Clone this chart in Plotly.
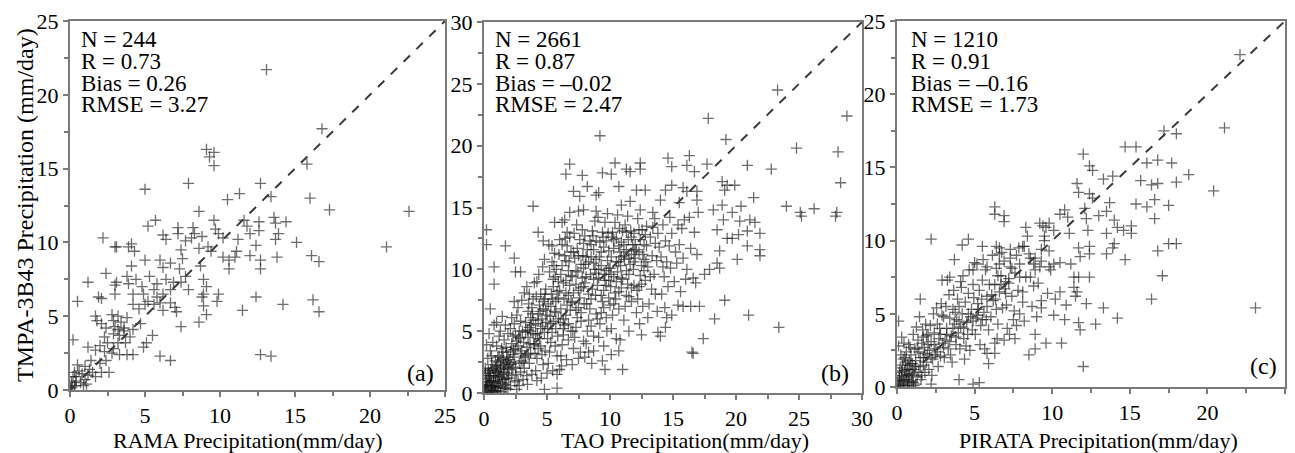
import plotly.graph_objects as go

W, H = 1295, 453

# values (station vs TMPA-3B43, mm/day)
rama_pts = [
    (13.1, 21.7), (16.8, 17.7), (15.8, 15.3), (9.1, 16.3), (9.6, 16.1), (9.3, 15.8), (9.6, 15.2),
    (7.9, 14.0), (5.0, 13.6), (12.7, 14.0), (13.4, 13.1), (11.3, 13.3), (10.5, 12.9), (16.0, 13.0),
    (17.3, 12.2), (22.6, 12.1), (21.1, 9.7), (8.6, 12.1), (5.7, 11.5), (5.2, 11.1), (2.2, 10.3),
    (7.2, 11.0), (7.2, 10.6), (8.2, 11.0), (8.3, 10.6), (8.1, 10.3), (8.8, 10.4), (9.6, 11.5),
    (9.7, 10.9), (9.9, 10.6), (10.2, 10.3), (6.2, 10.5), (6.4, 10.2), (7.7, 10.1), (11.2, 10.2),
    (11.6, 11.5), (11.8, 11.1), (12.0, 10.6), (12.6, 11.4), (12.6, 10.8), (13.6, 11.7), (13.7, 11.3),
    (13.9, 10.6), (13.7, 10.2), (14.4, 11.4), (15.1, 10.0), (3.0, 9.7), (3.1, 9.7), (3.9, 9.7),
    (4.1, 9.9), (4.3, 9.4), (7.4, 9.5), (7.5, 8.9), (8.6, 9.6), (9.2, 9.7), (9.4, 9.4), (10.2, 9.0),
    (10.6, 8.8), (11.1, 9.4), (11.0, 9.0), (12.0, 9.1), (12.4, 9.8), (12.7, 8.8), (13.8, 9.0),
    (16.1, 9.1), (16.6, 8.7), (6.0, 8.8), (5.0, 8.8), (6.7, 8.6), (6.2, 8.3), (7.3, 8.2), (8.7, 8.4),
    (10.6, 8.2), (12.7, 8.2), (4.1, 8.4), (2.4, 7.9), (1.2, 7.3), (3.1, 7.3), (3.0, 7.1), (3.8, 7.7),
    (3.9, 7.2), (4.4, 7.5), (5.3, 7.7), (5.8, 7.2), (6.4, 7.5), (6.9, 7.3), (7.4, 7.3), (7.7, 7.7),
    (7.9, 6.8), (8.9, 7.5), (9.1, 7.0), (8.9, 6.5), (9.9, 6.5), (0.5, 6.0), (1.9, 6.3), (2.1, 6.2),
    (3.0, 6.5), (4.8, 7.0), (4.2, 6.5), (4.9, 6.5), (5.6, 6.8), (5.8, 6.3), (6.2, 6.5), (6.7, 6.8),
    (5.2, 6.0), (5.6, 5.8), (6.0, 5.9), (6.2, 5.4), (6.7, 5.9), (7.0, 5.6), (7.1, 5.3), (8.8, 6.3),
    (8.9, 5.7), (9.8, 6.0), (12.4, 6.3), (16.2, 6.1), (16.6, 5.3), (14.2, 5.8), (11.5, 5.4),
    (9.1, 5.1), (8.6, 4.6), (4.2, 5.8), (4.6, 5.5), (5.0, 5.8), (1.7, 5.0), (1.8, 4.7), (2.1, 4.5),
    (2.8, 5.1), (2.9, 4.7), (3.2, 5.0), (3.4, 4.6), (3.8, 4.9), (2.4, 4.2), (3.0, 4.3), (3.2, 4.1),
    (3.6, 4.2), (4.2, 4.1), (4.7, 4.5), (7.4, 4.3), (2.9, 3.8), (3.3, 3.7), (3.6, 4.0), (2.3, 3.6),
    (4.0, 3.6), (5.5, 3.7), (0.2, 3.4), (1.2, 2.9), (2.0, 3.0), (2.5, 3.2), (2.9, 2.8), (3.2, 3.2),
    (3.7, 3.2), (4.9, 2.9), (5.1, 3.2), (1.7, 2.7), (2.3, 2.6), (2.8, 2.5), (3.3, 2.4), (3.8, 2.4),
    (4.2, 2.4), (6.0, 2.3), (6.7, 2.0), (12.7, 2.4), (13.4, 2.3), (1.4, 2.0), (2.0, 1.8), (2.4, 2.0),
    (1.0, 1.6), (0.5, 1.7), (1.3, 1.4), (2.1, 1.2), (2.6, 1.2), (0.8, 1.1), (0.2, 0.9), (0.4, 0.9),
    (1.0, 0.7), (1.2, 1.0), (0.1, 0.5), (0.3, 0.3), (0.05, 0.1), (0.7, 0.5), (1.7, 0.9), (0.3, 1.2),
    (0.6, 1.3), (0.9, 0.3), (0.4, 0.6), (0.15, 0.2), (1.5, 1.2), (1.1, 0.4),
]

tao_pts = [
    # scattered points
    (23.3, 24.5), (28.8, 22.4), (17.8, 22.2), (9.2, 20.8), (24.8, 19.8), (19.2, 20.5), (28.1, 19.5),
    (28.3, 17.0), (22.8, 18.1), (20.9, 18.4), (6.8, 18.5), (6.5, 17.7), (10.4, 18.6), (10.1, 17.7),
    (9.4, 17.8), (11.3, 18.1), (11.6, 17.9), (12.4, 18.6), (12.4, 18.1), (14.6, 19.0), (14.9, 18.3),
    (16.3, 19.2), (16.1, 18.4), (17.7, 18.5), (16.7, 17.9), (7.8, 17.6), (8.2, 16.7), (9.1, 16.2),
    (8.9, 16.0), (7.1, 16.3), (7.6, 15.9), (10.7, 16.7), (12.1, 16.4), (12.8, 16.4), (14.4, 16.4),
    (14.9, 16.8), (15.8, 16.6), (16.1, 16.3), (16.9, 16.3), (18.9, 17.1), (19.3, 16.8), (19.1, 16.4),
    (19.9, 16.8), (3.9, 15.1), (7.9, 14.8), (8.9, 14.7), (10.9, 15.2), (11.6, 15.5), (12.4, 14.8),
    (13.4, 14.6), (14.0, 15.6), (15.5, 15.4), (16.9, 15.6), (17.0, 14.6), (18.2, 14.8), (18.9, 15.2),
    (19.7, 14.6), (20.4, 15.1), (21.4, 15.8), (24.0, 15.1), (25.1, 14.6), (25.2, 14.3), (26.2, 14.9),
    (28.0, 14.6), (27.9, 14.3), (21.1, 14.0), (21.5, 13.8), (20.3, 13.9), (19.0, 14.0), (18.5, 13.2),
    (19.3, 12.5), (19.7, 12.5), (20.2, 12.8), (20.9, 13.1), (21.9, 12.9), (20.9, 11.9), (21.9, 11.6),
    (21.9, 11.1), (18.7, 11.5), (20.1, 10.8), (18.5, 10.5), (18.7, 10.1), (17.9, 10.0), (17.5, 9.6),
    (19.1, 7.5), (21.0, 6.3), (18.3, 6.0), (23.4, 5.3), (17.1, 7.0), (16.4, 7.0), (17.4, 4.4),
    (16.6, 3.2), (16.5, 3.3), (16.8, 8.9), (16.0, 9.2), (15.8, 7.0), (15.4, 7.1), (14.9, 6.3),
    (14.5, 6.1), (14.4, 5.3), (13.8, 4.9), (14.0, 4.6), (13.0, 6.1), (12.5, 4.7), (10.8, 4.3),
    (10.7, 3.4), (10.1, 3.1), (11.0, 1.9), (9.4, 2.6), (9.6, 1.9), (8.7, 3.4), (5.8, 1.5), (5.8, 0.4),
    (4.8, 0.3), (0.2, 12.0), (0.8, 10.2), (0.8, 8.8), (0.5, 6.8), (1.0, 5.7), (1.7, 11.9),
    (2.4, 10.9), (2.5, 9.8), (2.9, 9.8), (0.2, 13.2), (4.3, 13.0), (4.7, 12.3), (5.6, 13.8),
    (6.2, 13.8), (6.4, 14.0), (6.8, 14.6), (7.5, 14.7),
    # main cloud
    (0.1, 0.1), (0.2, 0.4), (0.3, 0.2), (0.4, 0.7), (0.5, 0.3), (0.6, 1.0), (0.7, 0.5), (0.8, 0.2),
    (0.9, 1.3), (0.2, 1.1), (0.4, 1.6), (0.1, 2.0), (0.6, 2.3), (0.3, 2.8), (0.8, 1.8), (0.5, 3.4),
    (0.9, 2.6), (0.2, 3.9), (0.7, 4.1), (0.4, 0.9), (0.6, 0.6), (1.0, 0.4), (0.9, 0.8), (0.3, 1.4),
    (0.15, 0.6), (0.55, 1.9), (1.1, 0.2), (1.2, 0.9), (1.3, 0.5), (1.4, 1.5), (1.5, 1.1), (1.6, 2.0),
    (1.7, 0.7), (1.8, 2.6), (1.9, 1.6), (1.2, 3.0), (1.4, 3.6), (1.6, 4.3), (1.8, 3.3), (1.3, 2.2),
    (1.1, 1.7), (1.5, 2.8), (1.9, 4.8), (1.7, 5.5), (1.0, 3.8), (1.2, 4.6), (1.9, 0.3), (1.6, 0.4),
    (1.8, 1.2), (1.1, 2.5), (1.45, 6.2), (2.1, 0.6), (2.2, 1.4), (2.3, 2.1), (2.4, 2.9), (2.5, 3.6),
    (2.6, 4.2), (2.7, 1.0), (2.8, 5.0), (2.9, 3.2), (2.2, 4.0), (2.4, 5.6), (2.6, 6.3), (2.8, 2.4),
    (2.0, 1.9), (2.3, 3.1), (2.5, 4.7), (2.7, 6.9), (2.9, 1.7), (2.1, 5.2), (2.6, 0.3), (2.4, 7.4),
    (2.9, 5.8), (2.05, 2.7), (3.1, 1.1), (3.2, 2.0), (3.3, 2.9), (3.4, 3.7), (3.5, 4.5), (3.6, 5.3),
    (3.7, 6.1), (3.8, 6.9), (3.9, 7.6), (3.15, 4.1), (3.3, 5.7), (3.5, 6.6), (3.7, 3.2), (3.9, 4.8),
    (3.2, 8.1), (3.6, 2.4), (3.8, 1.5), (3.4, 8.6), (3.0, 3.4), (3.75, 5.5), (3.45, 0.7), (3.95, 3.9),
    (4.1, 1.8), (4.2, 2.8), (4.3, 3.6), (4.4, 4.4), (4.5, 5.2), (4.6, 6.0), (4.7, 6.8), (4.8, 7.6),
    (4.9, 8.4), (4.2, 9.0), (4.4, 7.1), (4.6, 3.1), (4.8, 4.9), (4.1, 5.6), (4.3, 6.4), (4.5, 8.0),
    (4.7, 2.3), (4.9, 5.7), (4.35, 9.6), (4.65, 10.2), (4.0, 4.0), (4.85, 3.4), (4.55, 1.2),
    (5.1, 2.4), (5.2, 3.3), (5.3, 4.1), (5.4, 4.9), (5.5, 5.8), (5.6, 6.6), (5.7, 7.4), (5.8, 8.2),
    (5.9, 9.0), (5.2, 9.8), (5.4, 10.6), (5.6, 11.3), (5.8, 3.0), (5.0, 6.3), (5.3, 7.0), (5.5, 8.6),
    (5.7, 5.2), (5.9, 6.0), (5.15, 12.0), (5.45, 1.8), (5.75, 10.0), (5.05, 4.4), (5.65, 3.8),
    (5.35, 8.0), (6.1, 3.0), (6.2, 3.9), (6.3, 4.7), (6.4, 5.5), (6.5, 6.3), (6.6, 7.1), (6.7, 7.9),
    (6.8, 8.7), (6.9, 9.5), (6.2, 10.3), (6.4, 11.1), (6.6, 11.9), (6.8, 12.6), (6.0, 8.3), (6.3, 6.0),
    (6.5, 9.1), (6.7, 4.3), (6.9, 5.0), (6.15, 2.2), (6.45, 12.5), (6.75, 10.6), (6.05, 5.7),
    (6.55, 2.7), (6.85, 6.7), (6.35, 7.6), (7.1, 3.6), (7.2, 4.5), (7.3, 5.3), (7.4, 6.1), (7.5, 6.9),
    (7.6, 7.7), (7.7, 8.5), (7.8, 9.3), (7.9, 10.1), (7.2, 10.9), (7.4, 11.7), (7.6, 12.4), (7.8, 13.2),
    (7.0, 7.3), (7.3, 8.8), (7.5, 2.8), (7.7, 5.8), (7.9, 4.2), (7.15, 12.9), (7.45, 9.8), (7.65, 3.3),
    (7.85, 11.1), (7.05, 5.0), (7.35, 13.6), (7.95, 7.2), (8.1, 4.0), (8.2, 5.0), (8.3, 5.9),
    (8.4, 6.8), (8.5, 7.6), (8.6, 8.4), (8.7, 9.2), (8.8, 10.0), (8.9, 10.8), (8.2, 11.6), (8.4, 12.3),
    (8.6, 13.1), (8.8, 13.9), (8.0, 8.9), (8.3, 3.3), (8.5, 11.0), (8.7, 4.6), (8.9, 6.4), (8.15, 7.2),
    (8.45, 9.6), (8.65, 12.7), (8.85, 7.9), (8.05, 10.4), (8.55, 2.4), (9.1, 4.5), (9.2, 5.6),
    (9.3, 6.5), (9.4, 7.4), (9.5, 8.3), (9.6, 9.1), (9.7, 9.9), (9.8, 10.7), (9.9, 11.5), (9.2, 12.2),
    (9.4, 13.0), (9.6, 13.8), (9.8, 14.5), (9.0, 8.7), (9.3, 10.3), (9.5, 3.8), (9.7, 6.1), (9.9, 7.7),
    (9.15, 11.0), (9.45, 12.6), (9.75, 5.0), (9.05, 14.2), (9.55, 9.6), (9.85, 12.9), (10.1, 5.2),
    (10.2, 6.3), (10.3, 7.2), (10.4, 8.1), (10.5, 9.0), (10.6, 9.8), (10.7, 10.6), (10.8, 11.4),
    (10.9, 12.2), (10.2, 13.0), (10.4, 13.8), (10.6, 14.4), (10.0, 10.1), (10.3, 11.7), (10.5, 4.4),
    (10.7, 6.8), (10.9, 8.5), (10.15, 12.6), (10.45, 7.6), (10.75, 13.3), (10.05, 8.6), (10.85, 10.3),
    (11.1, 5.9), (11.2, 7.0), (11.3, 7.9), (11.4, 8.8), (11.5, 9.6), (11.6, 10.4), (11.7, 11.2),
    (11.8, 12.0), (11.9, 12.9), (11.2, 13.6), (11.4, 14.3), (11.0, 9.2), (11.3, 11.6), (11.5, 5.0),
    (11.7, 7.4), (11.9, 8.7), (11.15, 10.8), (11.65, 13.1), (11.85, 10.0), (11.45, 12.4), (12.1, 6.5),
    (12.2, 7.6), (12.3, 8.6), (12.4, 9.5), (12.5, 10.3), (12.6, 11.2), (12.7, 12.0), (12.8, 12.8),
    (12.9, 13.5), (12.2, 14.1), (12.0, 10.9), (12.4, 12.4), (12.6, 7.0), (12.8, 9.1), (12.15, 8.3),
    (12.55, 13.2), (12.85, 10.6), (12.35, 5.6), (13.1, 7.2), (13.3, 8.4), (13.5, 9.6), (13.7, 10.7),
    (13.9, 11.8), (13.2, 12.6), (13.4, 13.4), (13.6, 8.0), (13.8, 12.9), (13.0, 10.2), (13.35, 11.1),
    (13.75, 6.6), (13.55, 14.1), (14.1, 8.0), (14.3, 9.4), (14.5, 10.6), (14.7, 11.9), (14.9, 12.9),
    (14.2, 13.6), (14.6, 8.6), (14.8, 10.1), (14.4, 12.3), (14.05, 11.0), (14.75, 14.2), (14.35, 6.9),
    (15.1, 9.0), (15.3, 10.5), (15.5, 12.0), (15.7, 13.3), (15.9, 14.0), (15.2, 11.4), (15.6, 8.2),
    (15.8, 10.9), (15.4, 13.6), (16.1, 10.0), (16.4, 11.7), (16.7, 13.0), (16.3, 14.2), (16.9, 11.2),
    (16.6, 9.3),
    # denser centre of the cloud
    (0.05, 0.3), (0.25, 0.5), (0.35, 0.05), (0.45, 1.2), (0.65, 0.2), (0.75, 0.9), (0.85, 0.5),
    (0.95, 1.6), (1.05, 1.0), (1.15, 0.6), (1.25, 1.3), (1.35, 0.1), (1.45, 0.8), (1.55, 1.7),
    (1.65, 1.1), (1.75, 0.4), (1.85, 2.1), (1.95, 1.2), (0.3, 0.6), (0.5, 1.4), (0.7, 2.0), (0.9, 0.1),
    (1.1, 2.9), (1.3, 1.9), (1.5, 3.3), (1.7, 2.4), (1.9, 2.9), (0.1, 1.6), (0.6, 3.0), (1.0, 2.2),
    (2.15, 2.3), (2.35, 3.5), (2.55, 1.5), (2.75, 4.5), (2.95, 2.6), (3.05, 5.0), (3.25, 3.0),
    (3.45, 5.1), (3.65, 4.0), (3.85, 6.4), (4.05, 3.2), (4.25, 4.8), (4.45, 6.6), (4.65, 5.4),
    (4.85, 8.0), (5.05, 5.2), (5.25, 6.2), (5.45, 7.6), (5.65, 9.4), (5.85, 4.6), (2.45, 0.9),
    (3.55, 7.2), (4.15, 7.8), (5.55, 10.3), (5.95, 11.2), (6.1, 6.8), (6.3, 8.9), (6.5, 10.7),
    (6.7, 5.6), (6.9, 11.4), (7.1, 8.1), (7.3, 9.9), (7.5, 11.1), (7.7, 6.5), (7.9, 12.1), (8.1, 9.4),
    (8.3, 10.6), (8.5, 5.4), (8.7, 11.6), (8.9, 9.7), (9.1, 10.0), (9.3, 7.9), (9.5, 11.8), (9.7, 8.7),
    (9.9, 10.1), (10.1, 11.0), (10.3, 9.4), (10.5, 12.5), (10.7, 8.2), (10.9, 11.0), (11.1, 12.0),
    (11.3, 9.9), (11.5, 10.9), (11.7, 8.5), (11.9, 11.5), (6.2, 12.0), (7.0, 9.4), (8.0, 12.7),
    (9.0, 6.0), (10.0, 7.1), (11.0, 13.1), (12.0, 12.0), (12.3, 11.4), (12.7, 9.9), (13.2, 9.4),
    (13.6, 12.1), (14.2, 10.2),
    (0.15, 0.9), (0.35, 1.8), (0.55, 0.4), (0.75, 1.4), (0.95, 2.1), (1.15, 1.4), (1.35, 2.7),
    (1.55, 2.3), (1.75, 3.7), (1.95, 2.5), (2.1, 3.4), (2.3, 4.6), (2.5, 2.0), (2.7, 3.8), (2.9, 4.4),
    (3.1, 2.5), (3.3, 4.9), (3.5, 3.1), (3.7, 5.0), (3.9, 5.9), (4.1, 4.7), (4.3, 5.9), (4.5, 3.8),
    (4.7, 7.4), (4.9, 6.7), (5.1, 7.2), (5.3, 5.6), (5.5, 9.2), (5.7, 6.5), (5.9, 7.7), (6.1, 9.6),
    (6.3, 5.2), (6.5, 8.1), (6.7, 9.9), (6.9, 7.4), (7.1, 11.4), (7.3, 6.7), (7.5, 8.3), (7.7, 10.4),
    (7.9, 8.6), (8.1, 11.0), (8.3, 8.0), (8.5, 12.0), (8.7, 10.5), (8.9, 12.3), (9.1, 9.3), (9.3, 11.4),
    (9.5, 6.9), (9.7, 12.3), (9.9, 9.1), (10.1, 9.6), (10.3, 12.4), (10.5, 10.6), (10.7, 11.9),
    (10.9, 9.3), (11.1, 11.1), (11.3, 13.0), (11.5, 7.8), (11.7, 12.6), (11.9, 10.6), (12.1, 11.6),
    (12.3, 13.2), (12.5, 8.8), (12.7, 10.8), (12.9, 11.9), (2.2, 6.1), (3.0, 7.5), (3.6, 8.0),
    (4.0, 8.9), (4.8, 10.8), (5.4, 11.9), (6.0, 12.4), (6.6, 13.0), (2.8, 0.6), (3.4, 1.4), (4.2, 1.0),
    (5.0, 1.6), (6.0, 1.9), (7.0, 2.3), (8.0, 2.9), (0.4, 4.8), (0.8, 5.5), (1.3, 5.0),
]

pirata_pts = [
    # scattered points
    (22.1, 22.7), (21.1, 17.7), (17.2, 17.5), (18.0, 17.3), (17.7, 15.3), (18.0, 14.0), (18.8, 14.5),
    (20.4, 13.4), (23.1, 5.4), (14.7, 16.4), (15.4, 16.4), (16.1, 15.3), (16.8, 15.5), (15.7, 14.1),
    (16.4, 13.8), (16.8, 13.9), (15.4, 12.5), (16.1, 12.3), (16.6, 12.8), (16.6, 11.5), (17.5, 12.4),
    (17.5, 9.8), (18.0, 9.8), (16.8, 9.3), (17.1, 7.6), (16.4, 6.0), (14.7, 8.7), (15.1, 11.0),
    (15.1, 10.5), (14.2, 10.9), (14.6, 10.7), (13.7, 12.6), (13.3, 14.2), (13.9, 14.4), (13.5, 12.0),
    (14.0, 11.4), (13.5, 10.5), (14.0, 9.8), (13.9, 9.5), (13.5, 9.1), (14.2, 4.7), (13.3, 5.4),
    (12.0, 15.9), (12.4, 15.1), (12.6, 14.8), (12.4, 13.2), (12.6, 12.9), (11.7, 13.3), (11.6, 13.9),
    (12.1, 12.2), (12.2, 11.5), (12.3, 10.7), (13.0, 11.7), (10.8, 12.1), (10.5, 11.8), (11.0, 11.6),
    (9.8, 11.2), (9.6, 10.9), (11.1, 10.5), (10.1, 10.7), (9.2, 11.2), (8.3, 10.9), (8.2, 9.6),
    (9.5, 10.3), (9.3, 9.4), (12.4, 9.6), (12.4, 9.1), (11.7, 9.5), (11.8, 8.9), (11.2, 8.4),
    (10.5, 8.5), (10.1, 8.4), (9.8, 8.2), (9.2, 8.2), (8.8, 8.4), (8.6, 8.8), (8.9, 8.0), (8.6, 7.5),
    (7.9, 7.5), (7.2, 7.4), (7.0, 7.2), (6.5, 7.6), (7.4, 8.1), (7.3, 8.8), (6.6, 9.1), (6.6, 8.4),
    (6.6, 9.5), (6.4, 9.6), (6.3, 12.3), (6.3, 11.8), (6.9, 11.7), (6.9, 11.3), (8.1, 9.6), (7.3, 9.4),
    (5.5, 9.6), (4.6, 10.1), (4.2, 9.7), (2.2, 10.1), (3.7, 8.7), (5.8, 8.2), (5.0, 8.5), (4.9, 8.0),
    (3.4, 7.5), (2.9, 7.3), (4.1, 7.2), (1.5, 6.0), (11.4, 7.5), (11.7, 7.5), (12.4, 7.5), (11.4, 6.8),
    (11.6, 6.5), (11.5, 6.2), (10.5, 6.5), (10.2, 6.0), (10.9, 5.6), (10.8, 4.6), (12.2, 5.7),
    (12.8, 4.3), (11.7, 4.4), (11.8, 3.9), (10.1, 4.9), (9.0, 4.8), (8.9, 3.6), (8.9, 2.6), (9.6, 3.0),
    (10.6, 3.0), (8.5, 2.2), (12.0, 1.4), (9.3, 5.9), (9.3, 5.4), (8.1, 5.8), (7.9, 5.0), (7.1, 4.0),
    (7.7, 4.2), (7.6, 3.3), (6.9, 3.2), (6.3, 3.0), (6.3, 2.3), (5.8, 2.3), (5.9, 1.6), (4.9, 0.2),
    (5.3, 0.3), (4.0, 0.5), (2.2, 0.2),
    # main cloud
    (0.1, 0.1), (0.2, 0.4), (0.3, 0.8), (0.4, 0.2), (0.5, 1.1), (0.6, 0.5), (0.7, 1.5), (0.8, 0.3),
    (0.9, 0.9), (0.2, 1.3), (0.4, 1.9), (0.6, 2.4), (0.8, 1.8), (0.1, 2.8), (0.3, 3.4), (0.5, 0.7),
    (0.7, 0.1), (0.9, 2.2), (0.15, 0.6), (0.35, 1.5), (0.55, 1.7), (0.75, 0.8), (0.95, 0.4),
    (0.25, 0.1), (0.45, 3.0), (0.1, 4.5), (0.85, 2.7), (0.65, 1.2), (1.05, 0.3), (1.1, 1.2),
    (1.2, 1.8), (1.3, 0.7), (1.4, 2.4), (1.5, 1.4), (1.6, 3.0), (1.7, 2.0), (1.8, 1.0), (1.9, 3.5),
    (1.15, 2.6), (1.35, 3.2), (1.55, 0.5), (1.75, 2.7), (1.95, 2.2), (1.25, 4.1), (1.45, 4.8),
    (1.65, 3.9), (1.85, 4.3), (1.0, 1.6), (1.2, 0.2), (1.7, 1.5), (2.05, 1.2), (2.1, 2.5), (2.2, 3.1),
    (2.3, 1.9), (2.4, 3.7), (2.5, 2.6), (2.6, 4.3), (2.7, 3.3), (2.8, 2.1), (2.9, 4.9), (2.15, 4.2),
    (2.35, 5.0), (2.55, 5.4), (2.75, 4.0), (2.95, 3.0), (2.25, 0.8), (2.65, 1.4), (2.45, 2.2),
    (2.85, 5.7), (2.0, 3.6), (3.05, 2.0), (3.1, 3.2), (3.2, 4.0), (3.3, 2.6), (3.4, 4.7), (3.5, 3.5),
    (3.6, 5.3), (3.7, 4.3), (3.8, 2.9), (3.9, 6.0), (3.15, 5.5), (3.35, 6.3), (3.55, 1.7), (3.75, 5.1),
    (3.95, 3.7), (3.25, 7.3), (3.65, 6.6), (3.45, 2.2), (3.85, 4.6), (3.0, 4.8), (4.05, 2.6),
    (4.1, 4.1), (4.2, 5.0), (4.3, 3.3), (4.4, 5.8), (4.5, 4.4), (4.6, 6.4), (4.7, 2.5), (4.8, 5.3),
    (4.9, 7.0), (4.15, 6.8), (4.35, 1.9), (4.55, 3.6), (4.75, 4.8), (4.95, 6.1), (4.25, 7.6),
    (4.65, 8.0), (4.45, 2.8), (4.85, 3.9), (4.0, 5.5), (5.05, 3.6), (5.1, 4.7), (5.2, 5.7), (5.3, 6.6),
    (5.4, 4.2), (5.5, 7.3), (5.6, 5.1), (5.7, 8.0), (5.8, 6.2), (5.9, 3.9), (5.15, 8.4), (5.35, 2.9),
    (5.55, 8.7), (5.75, 4.6), (5.95, 7.0), (5.25, 5.3), (5.65, 2.6), (5.45, 6.0), (6.05, 4.8),
    (6.2, 5.9), (6.3, 7.0), (6.4, 8.1), (6.5, 4.3), (6.6, 6.5), (6.7, 7.6), (6.8, 5.4), (6.9, 8.6),
    (6.15, 9.0), (6.45, 3.3), (6.75, 9.2), (6.95, 6.7), (6.35, 6.0), (7.05, 5.6), (7.2, 7.1),
    (7.3, 8.2), (7.4, 6.2), (7.5, 4.6), (7.6, 7.8), (7.7, 9.0), (7.8, 6.6), (7.9, 8.4), (7.25, 3.6),
    (7.55, 5.2), (7.85, 9.5), (8.1, 6.5), (8.3, 7.5), (8.5, 9.1), (8.7, 5.5), (8.9, 8.8), (8.4, 10.3),
    (8.8, 6.9), (8.2, 4.5), (9.1, 7.1), (9.3, 8.6), (9.5, 10.0), (9.7, 6.4), (9.9, 8.0), (9.4, 11.0),
    (9.8, 9.3),
    # denser centre of the cloud
    (0.05, 0.4), (0.2, 0.2), (0.3, 1.1), (0.4, 0.5), (0.5, 2.0), (0.6, 0.9), (0.7, 0.4), (0.8, 1.2),
    (0.9, 1.6), (1.0, 0.8), (1.1, 0.1), (1.2, 1.4), (1.3, 2.6), (1.4, 1.0), (1.5, 2.0), (1.6, 0.8),
    (1.7, 3.4), (1.8, 2.3), (1.9, 1.7), (2.0, 2.9), (2.2, 2.0), (2.4, 2.9), (2.6, 2.4), (2.8, 3.6),
    (3.0, 2.7), (3.2, 3.6), (3.4, 3.1), (3.6, 4.0), (3.8, 3.4), (4.0, 4.5), (4.3, 4.0), (4.6, 5.0),
    (4.9, 4.5), (5.2, 4.9), (5.5, 4.6), (5.8, 5.5), (6.1, 6.3), (6.4, 5.3), (6.7, 7.0), (7.0, 6.4),
    (0.25, 2.2), (0.15, 1.0), (0.45, 0.1), (0.75, 2.9), (1.05, 3.6),
]

x_titles = ["RAMA Precipitation(mm/day)", "TAO Precipitation(mm/day)", "PIRATA Precipitation(mm/day)"]
y_title = "TMPA-3B43 Precipitation (mm/day)"
axis_max = [25, 30, 25]
panel_tags = ["(a)", "(b)", "(c)"]
stats = [
    ["N = 244", "R = 0.73", "Bias = 0.26", "RMSE = 3.27"],
    ["N = 2661", "R = 0.87", "Bias = \u20130.02", "RMSE = 2.47"],
    ["N = 1210", "R = 0.91", "Bias = \u20130.16", "RMSE = 1.73"],
]

FONT = "Liberation Serif"
GRAY = "#7a7a7a"

# pixel boxes of the three plot areas (left, right, top, bottom)
boxes = [(70, 445, 21, 390), (484, 862, 22, 393), (897, 1285, 21, 387)]
title_cx = [247, 685, 1098]
tag_pos = [(420, 373), (835, 373), (1263, 366)]
stats_left = [79, 493, 909]
stats_cy = [39, 61, 83, 104]


def fx(p):
    return p / W


def fy(p):
    return 1 - p / H


fig = go.Figure()
annotations = []

for i, pts in enumerate([rama_pts, tao_pts, pirata_pts]):
    xs = [p[0] for p in pts]
    ys = [p[1] for p in pts]
    sfx = "" if i == 0 else str(i + 1)
    m = axis_max[i]
    fig.add_trace(go.Scatter(
        x=xs, y=ys, mode="markers", xaxis="x" + sfx, yaxis="y" + sfx, showlegend=False,
        marker=dict(symbol="cross-thin", size=8, line=dict(width=1.3, color="rgba(20,20,20,0.62)")),
    ))
    fig.add_trace(go.Scatter(
        x=[0, m], y=[0, m], mode="lines", xaxis="x" + sfx, yaxis="y" + sfx, showlegend=False,
        line=dict(color="#3a3a3a", width=2, dash="dash"),
    ))

    l, r, t, b = boxes[i]
    common = dict(
        range=[0, m], dtick=5, ticks="outside", ticklen=5, tickwidth=1.5, tickcolor=GRAY,
        showline=True, linecolor=GRAY, linewidth=2, mirror=True, showgrid=False, zeroline=False,
        automargin=False, tickfont=dict(family=FONT, size=22, color="black"),
        minor=dict(dtick=2.5, ticks="outside", ticklen=4, tickwidth=1.5, tickcolor=GRAY),
    )
    fig.layout["xaxis" + sfx] = dict(common, domain=[fx(l), fx(r)], anchor="y" + sfx)
    fig.layout["yaxis" + sfx] = dict(common, domain=[fy(b), fy(t)], anchor="x" + sfx)

    annotations.append(dict(text=x_titles[i], x=fx(title_cx[i]), y=fy(440), xref="paper", yref="paper",
                            xanchor="center", yanchor="middle", showarrow=False,
                            font=dict(family=FONT, size=22, color="black")))
    annotations.append(dict(text=panel_tags[i], x=fx(tag_pos[i][0]), y=fy(tag_pos[i][1]), xref="paper",
                            yref="paper", xanchor="center", yanchor="middle", showarrow=False,
                            font=dict(family=FONT, size=24, color="black")))
    for line, cy in zip(stats[i], stats_cy):
        annotations.append(dict(text=line, x=fx(stats_left[i]), y=fy(cy), xref="paper", yref="paper",
                                xanchor="left", yanchor="middle", showarrow=False,
                                font=dict(family=FONT, size=23, color="black")))

annotations.append(dict(text=y_title, x=fx(25), y=fy(205), xref="paper", yref="paper", textangle=-90,
                        xanchor="center", yanchor="middle", showarrow=False,
                        font=dict(family=FONT, size=24, color="black")))

fig.update_layout(
    width=W, height=H, margin=dict(l=0, r=0, t=0, b=0, autoexpand=False),
    paper_bgcolor="white", plot_bgcolor="white",
    annotations=annotations,
)

# the page's default body margin would push the figure 8px right and down
fig.write_html("out.html", config={"displayModeBar": False},
               post_script="document.body.style.margin = '0';")
